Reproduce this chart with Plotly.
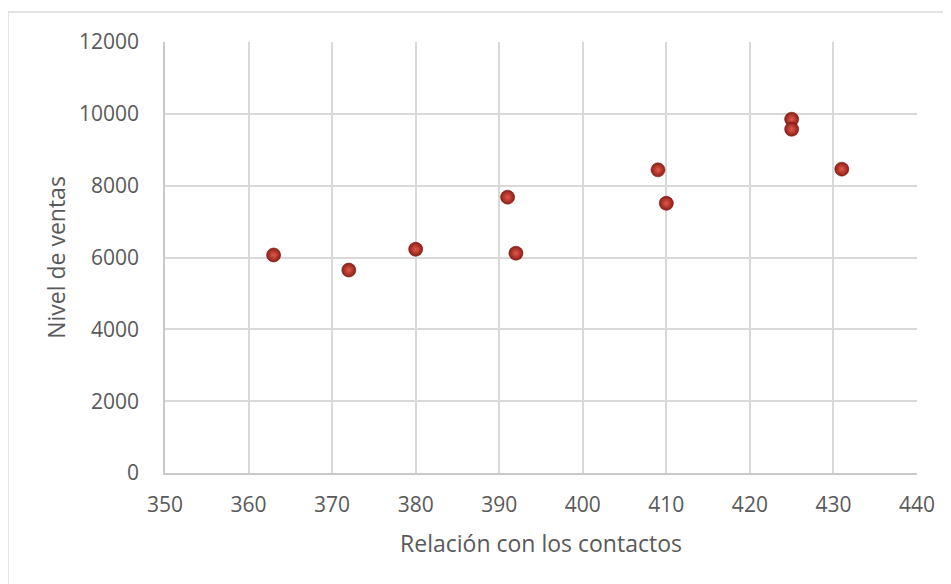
import plotly.graph_objects as go

relacion_contactos = [363, 372, 380, 391, 392, 409, 410, 425, 425, 431]
nivel_ventas = [6070, 5650, 6230, 7680, 6120, 8440, 7510, 9850, 9570, 8460]

x_ticks = [350, 360, 370, 380, 390, 400, 410, 420, 430, 440]
y_ticks = [0, 2000, 4000, 6000, 8000, 10000, 12000]

FONT = "Open Sans"
TXT = "#595959"
GRID = "#d9d9d9"

fig = go.Figure()
fig.add_trace(go.Scatter(
    x=relacion_contactos, y=nivel_ventas, mode="markers",
    marker=dict(size=14, color="#8e1f18",
                gradient=dict(type="radial", color="#e2584a"),
                line=dict(width=0.6, color="#6e1510")),
    showlegend=False,
))

fig.update_layout(
    width=951, height=584,
    margin=dict(l=157, r=42, t=34, b=119),
    paper_bgcolor="white", plot_bgcolor="white",
    font=dict(family=FONT, color=TXT, size=21),
    xaxis=dict(range=[350, 440], tickvals=x_ticks, ticktext=[str(v) for v in x_ticks],
               showgrid=True, gridcolor=GRID, gridwidth=1.5,
               showline=True, linecolor="#c9c9c9", linewidth=1.5,
               zeroline=False, ticks="outside", ticklen=12, tickcolor="rgba(0,0,0,0)",
               tickfont=dict(size=21, color=TXT, family=FONT),
               title=dict(text="Relación con los contactos", font=dict(size=23, color=TXT, family=FONT),
                          standoff=19)),
    yaxis=dict(range=[0, 12000], tickvals=y_ticks, ticktext=[str(v) for v in y_ticks],
               showgrid=True, gridcolor=GRID, gridwidth=1.5,
               showline=True, linecolor="#c9c9c9", linewidth=1.5,
               zeroline=False, ticks="outside", ticklen=20, tickcolor="rgba(0,0,0,0)",
               tickfont=dict(size=21, color=TXT, family=FONT),
               title=dict(text="Nivel de ventas", font=dict(size=23, color=TXT, family=FONT),
                          standoff=7)),
    shapes=[dict(type="rect", xref="paper", yref="paper",
                 x0=-0.2089, x1=1.2, y0=-0.4, y1=1.0696,
                 line=dict(color="#d9d9d9", width=1.5), fillcolor="rgba(0,0,0,0)",
                 layer="below")],
)

fig.write_html("out.html")
